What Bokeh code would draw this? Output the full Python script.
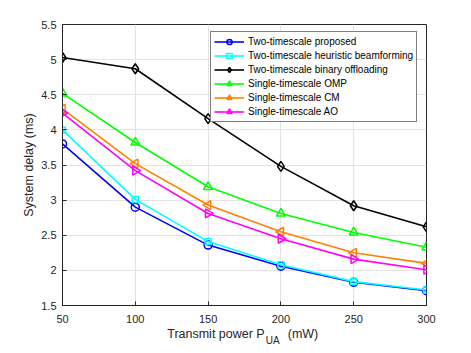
import numpy as np
from bokeh.plotting import figure
from bokeh.models import FixedTicker, Legend, LegendItem, Range1d, LinearAxis
from bokeh.embed import file_html
from bokeh.resources import INLINE

# ---- data ----
power = [50, 100, 150, 200, 250, 300]
proposed = [3.80, 2.90, 2.36, 2.06, 1.83, 1.71]
heuristic_bf = [4.00, 3.01, 2.41, 2.08, 1.84, 1.72]
binary_off = [5.03, 4.87, 4.16, 3.48, 2.92, 2.62]
single_omp = [4.52, 3.82, 3.19, 2.81, 2.54, 2.33]
single_cm = [4.30, 3.52, 2.93, 2.55, 2.25, 2.10]
single_ao = [4.24, 3.42, 2.81, 2.45, 2.16, 2.01]

x_ticks = [50, 100, 150, 200, 250, 300]
y_ticks = [1.5, 2, 2.5, 3, 3.5, 4, 4.5, 5, 5.5]
y_tick_labels = {1.5: "1.5", 2: "2", 2.5: "2.5", 3: "3", 3.5: "3.5", 4: "4", 4.5: "4.5", 5: "5", 5.5: "5.5"}

# x-axis title pieces (text, anchor along the x axis)
xlabel_main = [("Transmit power P", 155.4), ("(mW)", 215.2)]
xlabel_sub = [("UA", 194.4)]

series = [
    ("Two-timescale proposed", proposed, "#0000FF", "circle", 0.0, 8),
    ("Two-timescale heuristic beamforming", heuristic_bf, "#00FFFF", "square", 0.0, 6),
    ("Two-timescale binary offloading", binary_off, "#000000", "diamond", 0.0, 10),
    ("Single-timescale OMP", single_omp, "#00FF00", "triangle", 0.0, 9),
    ("Single-timescale CM", single_cm, "#FF8000", "triangle", np.pi / 2, 9),
    ("Single-timescale AO", single_ao, "#FF00FF", "triangle", -np.pi / 2, 9),
]

FONT = "Liberation Sans"
DARK = "#262626"

p = figure(width=470, height=352, output_backend="svg", toolbar_location=None,
           x_range=Range1d(50, 300), y_range=Range1d(1.5, 5.5),
           min_border_left=62, min_border_right=44, min_border_top=24, min_border_bottom=47)
p.background_fill_color = "white"
p.border_fill_color = "white"
p.outline_line_color = DARK
p.outline_line_width = 1

items = []
for name, vals, color, marker, ang, sz in series:
    r1 = p.line(power, vals, line_color=color, line_width=1.6)
    r2 = p.scatter(power, vals, marker=marker, angle=ang, size=sz, line_color=color,
                   fill_color=None, line_width=1.5)
    items.append(LegendItem(label=name, renderers=[r1, r2]))

for ax in (p.xaxis[0], p.yaxis[0]):
    ax.major_tick_in = 4
    ax.major_tick_out = 0
    ax.minor_tick_line_color = None
    ax.axis_line_color = DARK
    ax.major_tick_line_color = DARK
    ax.major_label_text_font = FONT
    ax.major_label_text_font_size = "11px"
    ax.major_label_text_color = DARK
    ax.axis_label_text_font = FONT
    ax.axis_label_text_font_size = "12.5px"
    ax.axis_label_text_font_style = "normal"
    ax.axis_label_text_color = DARK

p.xaxis.ticker = FixedTicker(ticks=x_ticks)
p.yaxis.ticker = FixedTicker(ticks=y_ticks)
p.yaxis.major_label_overrides = y_tick_labels
p.xaxis.major_label_standoff = 9
p.yaxis.major_label_standoff = 6
p.yaxis.axis_label = "System delay (ms)"
p.yaxis.axis_label_standoff = 2

p.xgrid.grid_line_color = "#E3E3E3"
p.ygrid.grid_line_color = "#E3E3E3"
p.xgrid.ticker = FixedTicker(ticks=x_ticks)
p.ygrid.ticker = FixedTicker(ticks=y_ticks)

# x-axis title drawn as label-only axes (main text, then subscript)
def label_axis(pieces, size, standoff):
    ax = LinearAxis(ticker=FixedTicker(ticks=[pos for _, pos in pieces]),
                    major_label_overrides={pos: txt for txt, pos in pieces},
                    major_tick_in=0, major_tick_out=0, minor_tick_line_color=None,
                    major_tick_line_color=None, axis_line_color=None,
                    major_label_standoff=standoff, major_label_text_font=FONT,
                    major_label_text_font_size=size, major_label_text_color=DARK)
    p.add_layout(ax, "below")

label_axis(xlabel_main, "12.5px", 1)
label_axis(xlabel_sub, "10px", -9)

legend = Legend(items=items, location=(148, 183), label_text_font=FONT,
                label_text_font_size="10px", label_text_color="black",
                glyph_width=30, glyph_height=13, label_height=13, spacing=1,
                padding=3, margin=0, label_standoff=4,
                border_line_color="black", border_line_width=1,
                background_fill_color="white", background_fill_alpha=1)
p.add_layout(legend, "center")

open("out.html", "w").write(file_html(p, INLINE))
